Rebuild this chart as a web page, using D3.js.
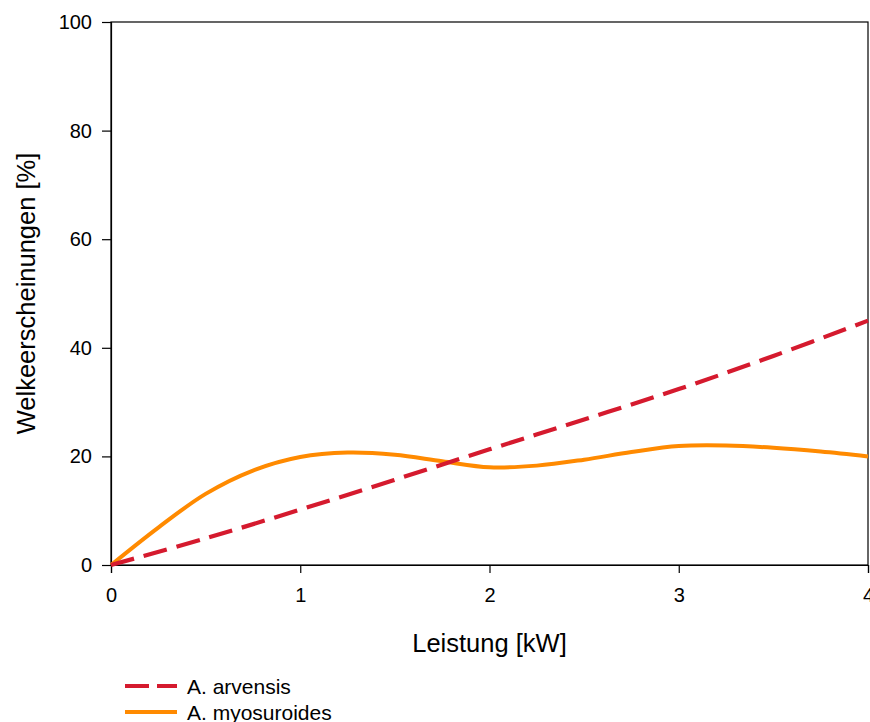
<!DOCTYPE html>
<html>
<head>
<meta charset="utf-8">
<script src="https://cdn.jsdelivr.net/npm/d3@7"></script>
<style>
  body { margin: 0; background: #fff; }
  text { font-family: "Liberation Sans", Arial, sans-serif; fill: #000; }
</style>
</head>
<body>
<div id="chart"></div>
<script>
// data
var xTicks = [0, 1, 2, 3, 4];
var yTicks = [0, 20, 40, 60, 80, 100];
var seriesNames = ['A. arvensis', 'A. myosuroides'];
var arvensisX = [0, 0.5, 1, 1.5, 2, 2.5, 3, 3.5, 4];
var arvensisY = [0, 4.9, 10.2, 15.7, 21.3, 26.8, 32.4, 38.5, 45];
var myosX = [0, 0.25, 0.5, 0.75, 1, 1.25, 1.5, 1.75, 2, 2.25, 2.5, 2.75, 3, 3.25, 3.5, 3.75, 4];
var myosY = [0, 6.9, 13.1, 17.4, 19.9, 20.7, 20.3, 19.1, 18.0, 18.3, 19.4, 20.8, 21.9, 22.0, 21.6, 20.9, 20.0];

var width = 870, height = 722;
var margin = { top: 22, right: 2, bottom: 157, left: 111 };

var svg = d3.select('#chart').append('svg')
  .attr('width', width)
  .attr('height', height);

var x = d3.scaleLinear().domain([0, 4]).range([margin.left, width - margin.right]);
var y = d3.scaleLinear().domain([0, 100]).range([height - margin.bottom, margin.top]);

// frame
svg.append('rect')
  .attr('x', x(0)).attr('y', y(100))
  .attr('width', x(4) - x(0)).attr('height', y(0) - y(100))
  .attr('fill', 'none').attr('stroke', '#000').attr('stroke-width', 1.2);

var xAxis = svg.append('g')
  .attr('transform', 'translate(0,' + y(0) + ')')
  .call(d3.axisBottom(x).tickValues(xTicks).tickSize(8).tickPadding(15).tickFormat(d3.format('d')));
var yAxis = svg.append('g')
  .attr('transform', 'translate(' + x(0) + ',0)')
  .call(d3.axisLeft(y).tickValues(yTicks).tickSize(9).tickPadding(10).tickFormat(d3.format('d')));

[xAxis, yAxis].forEach(function(g) {
  g.select('.domain').attr('stroke', '#000').attr('stroke-width', 1.2);
  g.selectAll('.tick line').attr('stroke', '#000').attr('stroke-width', 1.2);
  g.selectAll('.tick text').attr('font-size', 20).attr('fill', '#000')
    .style('font-family', '"Liberation Sans", Arial, sans-serif');
});

var line = d3.line()
  .curve(d3.curveCatmullRom.alpha(0.5))
  .x(d => x(d[0]))
  .y(d => y(d[1]));

var arvensis = arvensisX.map((v, i) => [v, arvensisY[i]]);
var myos = myosX.map((v, i) => [v, myosY[i]]);

svg.append('path')
  .datum(myos)
  .attr('d', line)
  .attr('fill', 'none')
  .attr('stroke', '#ff8a00')
  .attr('stroke-width', 4);

svg.append('path')
  .datum(arvensis)
  .attr('d', line)
  .attr('fill', 'none')
  .attr('stroke', '#d51a2e')
  .attr('stroke-width', 4.2)
  .attr('stroke-dasharray', '24,10');

// axis titles
svg.append('text')
  .attr('x', (x(0) + x(4)) / 2)
  .attr('y', 652)
  .attr('text-anchor', 'middle')
  .attr('font-size', 25.5)
  .text('Leistung [kW]');

svg.append('text')
  .attr('transform', 'translate(35,' + ((y(0) + y(100)) / 2) + ') rotate(-90)')
  .attr('text-anchor', 'middle')
  .attr('font-size', 25.5)
  .text('Welkeerscheinungen [%]');

// legend
var legend = svg.append('g');
var legendStyles = [
  { color: '#d51a2e', dash: '24,8' },
  { color: '#ff8a00', dash: null }
];
seriesNames.forEach(function(name, i) {
  var ly = 686 + i * 26;
  legend.append('line')
    .attr('x1', 125).attr('x2', 177)
    .attr('y1', ly).attr('y2', ly)
    .attr('stroke', legendStyles[i].color)
    .attr('stroke-width', 4.2)
    .attr('stroke-dasharray', legendStyles[i].dash);
  legend.append('text')
    .attr('x', 187)
    .attr('y', ly + 8)
    .attr('font-size', 21)
    .text(name);
});
</script>
</body>
</html>
